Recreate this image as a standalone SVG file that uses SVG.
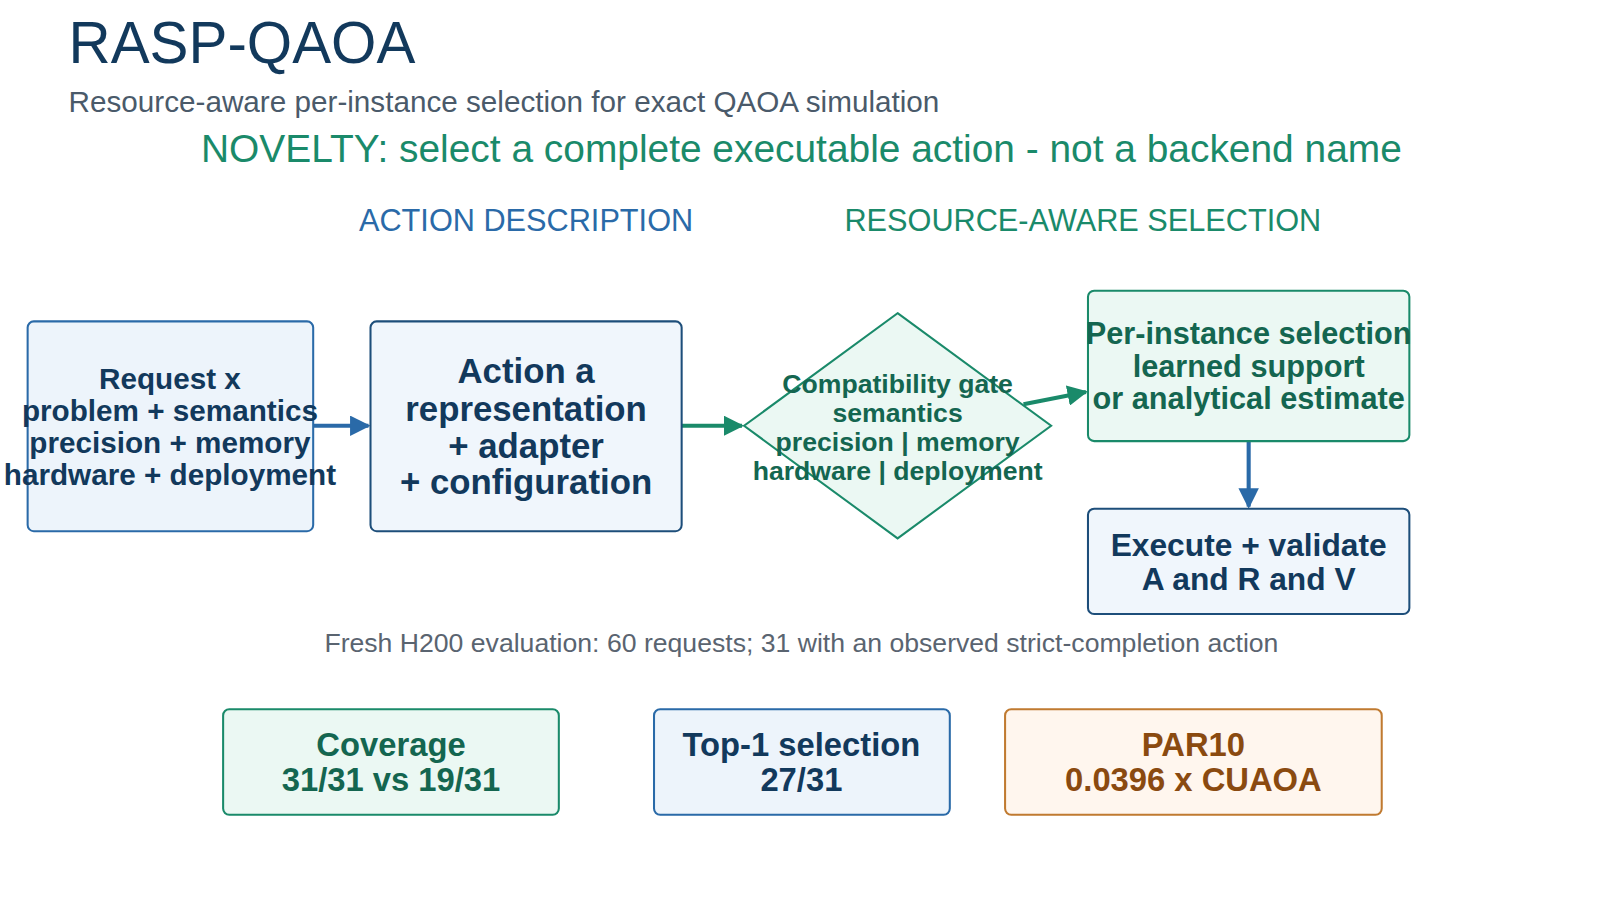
<svg xmlns="http://www.w3.org/2000/svg" width="1600" height="900" viewBox="0 0 1600 900">
<defs>
<style>
text{font-family:"Liberation Sans",Arial,sans-serif}
.b{font-weight:bold;text-anchor:middle}
.navy{fill:#12395c}.gr{fill:#146650}.or{fill:#8a4a10}
.bluebox{fill:#edf4fb;stroke:#2a6aa8;stroke-width:2}
.navybox{fill:#f0f6fc;stroke:#1d4e7a;stroke-width:2}
.greenbox{fill:#ebf8f3;stroke:#1a8a6a;stroke-width:2}
.orbox{fill:#fff6ee;stroke:#c07a30;stroke-width:2}
</style>
<marker id="ab" viewBox="0 0 10 10" refX="9" refY="5" markerWidth="5" markerHeight="5" orient="auto"><path d="M0,0L10,5L0,10z" fill="#2a6aa8"/></marker>
<marker id="ag" viewBox="0 0 10 10" refX="9" refY="5" markerWidth="5" markerHeight="5" orient="auto"><path d="M0,0L10,5L0,10z" fill="#1a8a6a"/></marker>
</defs>
<rect width="1600" height="900" fill="#fff"/>
<g transform="scale(1.0235)">
<text x="67" y="62" font-size="57" fill="#12395c">RASP-QAOA</text>
<text x="67" y="109" font-size="29" fill="#4a5a6a">Resource-aware per-instance selection for exact QAOA simulation</text>
<text x="783" y="158" font-size="38" fill="#1a8a6a" text-anchor="middle">NOVELTY: select a complete executable action - not a backend name</text>
<text x="514" y="226" font-size="30" fill="#2a6aa8" text-anchor="middle">ACTION DESCRIPTION</text>
<text x="1058" y="226" font-size="30" fill="#1a8a6a" text-anchor="middle">RESOURCE-AWARE SELECTION</text>
<g id="connectors" stroke-width="4" fill="none">
<line x1="306" y1="416" x2="360" y2="416" stroke="#2a6aa8" marker-end="url(#ab)"/>
<line x1="666" y1="416" x2="725" y2="416" stroke="#1a8a6a" marker-end="url(#ag)"/>
<line x1="1000" y1="395" x2="1061" y2="383" stroke="#1a8a6a" marker-end="url(#ag)"/>
<line x1="1220" y1="431" x2="1220" y2="495" stroke="#2a6aa8" marker-end="url(#ab)"/>
</g>
<g id="request"><rect class="bluebox" x="27" y="314" width="279" height="205" rx="6"/>
<text class="b navy" font-size="29"><tspan x="166" y="380">Request x</tspan><tspan x="166" y="411">problem + semantics</tspan><tspan x="166" y="443">precision + memory</tspan><tspan x="166" y="474">hardware + deployment</tspan></text></g>
<g id="action"><rect class="navybox" x="362" y="314" width="304" height="205" rx="6"/>
<text class="b navy" font-size="34"><tspan x="514" y="374">Action a</tspan><tspan x="514" y="411">representation</tspan><tspan x="514" y="447">+ adapter</tspan><tspan x="514" y="483">+ configuration</tspan></text></g>
<g id="gate"><polygon class="greenbox" points="877,306 1027,416 877,526 727,416"/>
<text class="b gr" font-size="26"><tspan x="877" y="384">Compatibility gate</tspan><tspan x="877" y="412">semantics</tspan><tspan x="877" y="441">precision | memory</tspan><tspan x="877" y="469">hardware | deployment</tspan></text></g>
<g id="select"><rect class="greenbox" x="1063" y="284" width="314" height="147" rx="6"/>
<text class="b gr" font-size="30"><tspan x="1220" y="336">Per-instance selection</tspan><tspan x="1220" y="368">learned support</tspan><tspan x="1220" y="400">or analytical estimate</tspan></text></g>
<g id="execute"><rect class="navybox" x="1063" y="497" width="314" height="103" rx="6" stroke="#2a6aa8"/>
<text class="b navy" font-size="31"><tspan x="1220" y="543">Execute + validate</tspan><tspan x="1220" y="576">A and R and V</tspan></text></g>
<text x="783" y="637" font-size="26" fill="#5a6470" text-anchor="middle">Fresh H200 evaluation: 60 requests; 31 with an observed strict-completion action</text>
<g id="coverage"><rect class="greenbox" x="218" y="693" width="328" height="103" rx="6"/>
<text class="b gr" font-size="32"><tspan x="382" y="739">Coverage</tspan><tspan x="382" y="773">31/31 vs 19/31</tspan></text></g>
<g id="top1"><rect class="bluebox" x="639" y="693" width="289" height="103" rx="6"/>
<text class="b navy" font-size="32"><tspan x="783" y="739">Top-1 selection</tspan><tspan x="783" y="773">27/31</tspan></text></g>
<g id="par10"><rect class="orbox" x="982" y="693" width="368" height="103" rx="6"/>
<text class="b or" font-size="32"><tspan x="1166" y="739">PAR10</tspan><tspan x="1166" y="773">0.0396 x CUAOA</tspan></text></g>
</g>
</svg>
